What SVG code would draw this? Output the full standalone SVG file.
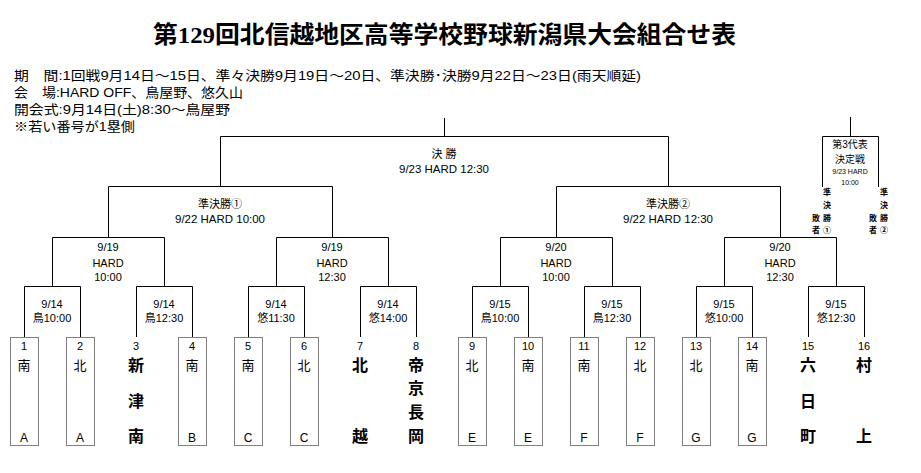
<svg xmlns="http://www.w3.org/2000/svg" width="921" height="473" viewBox="0 0 921 473">
<style>
text{font-family:"Liberation Sans","Noto Sans CJK JP",sans-serif;fill:#000}
.title{font-family:"Liberation Serif","Noto Sans CJK JP",serif;font-size:24px;font-weight:bold;text-anchor:middle}
.info{font-size:13px}
.lb{font-size:11px;text-anchor:middle}
.num{font-size:11px;text-anchor:middle}
.nm{font-size:13px;text-anchor:middle}
.grp{font-size:12px;text-anchor:middle}
.bold{font-size:16px;font-weight:bold;text-anchor:middle}
.s3{font-size:10px;text-anchor:middle}
.s3s{font-size:7px;text-anchor:middle}
.vt{font-size:8px;font-weight:bold;text-anchor:middle}
.ln{fill:none;stroke:#000;stroke-width:1}
.box{fill:none;stroke:#000;stroke-width:1;stroke-dasharray:1 1}
</style>
<rect width="921" height="473" fill="#fff"/>
<g id="title"><text class="title" x="444.5" y="43" textLength="583" lengthAdjust="spacingAndGlyphs">第129回北信越地区高等学校野球新潟県大会組合せ表</text></g>
<g id="info">
<text class="info" x="14" y="80" textLength="627" lengthAdjust="spacingAndGlyphs">期　間:1回戦9月14日～15日、準々決勝9月19日～20日、準決勝･決勝9月22日～23日(雨天順延)</text>
<text class="info" x="14" y="97" textLength="229" lengthAdjust="spacingAndGlyphs">会　場:HARD OFF、鳥屋野、悠久山</text>
<text class="info" x="14" y="114" textLength="216" lengthAdjust="spacingAndGlyphs">開会式:9月14日(土)8:30～鳥屋野</text>
<text class="info" x="14" y="131" textLength="121" lengthAdjust="spacingAndGlyphs">※若い番号が1塁側</text>
</g>
<g id="connectors" class="ln">
<path class="ln" d="M444.5,118V136.5M220.5,186V136.5H668.5V186"/>
<path class="ln" d="M108.5,237V186.5H332.5V237M556.5,237V186.5H780.5V237"/>
<path class="ln" d="M52.5,286V237.5H164.5V286M276.5,286V237.5H388.5V286M500.5,286V237.5H612.5V286M724.5,286V237.5H836.5V286"/>
<path class="ln" d="M24.5,337V286.5H80.5V337M136.5,337V286.5H192.5V337M248.5,337V286.5H304.5V337M360.5,337V286.5H416.5V337M472.5,337V286.5H528.5V337M584.5,337V286.5H640.5V337M696.5,337V286.5H752.5V337M808.5,337V286.5H864.5V337"/>
<path class="ln" d="M850.5,117V136.5M822.5,187V136.5H878.5V187"/>
</g>
<g id="final"><text class="lb" x="444" y="158">決 勝</text><text class="lb" x="444" y="173" textLength="90" lengthAdjust="spacingAndGlyphs">9/23 HARD 12:30</text></g>
<g id="semi1"><text class="lb" x="220" y="208">準決勝①</text><text class="lb" x="220" y="223" textLength="90" lengthAdjust="spacingAndGlyphs">9/22 HARD 10:00</text></g>
<g id="semi2"><text class="lb" x="668" y="208">準決勝②</text><text class="lb" x="668" y="223" textLength="90" lengthAdjust="spacingAndGlyphs">9/22 HARD 12:30</text></g>
<g id="qf1"><text class="lb" x="108" y="251">9/19</text><text class="lb" x="108" y="267">HARD</text><text class="lb" x="108" y="281">10:00</text></g>
<g id="qf2"><text class="lb" x="332" y="251">9/19</text><text class="lb" x="332" y="267">HARD</text><text class="lb" x="332" y="281">12:30</text></g>
<g id="qf3"><text class="lb" x="556" y="251">9/20</text><text class="lb" x="556" y="267">HARD</text><text class="lb" x="556" y="281">10:00</text></g>
<g id="qf4"><text class="lb" x="780" y="251">9/20</text><text class="lb" x="780" y="267">HARD</text><text class="lb" x="780" y="281">12:30</text></g>
<g id="r1-1"><text class="lb" x="52" y="308">9/14</text><text class="lb" x="52" y="322">鳥10:00</text></g>
<g id="r1-2"><text class="lb" x="164" y="308">9/14</text><text class="lb" x="164" y="322">鳥12:30</text></g>
<g id="r1-3"><text class="lb" x="276" y="308">9/14</text><text class="lb" x="276" y="322">悠11:30</text></g>
<g id="r1-4"><text class="lb" x="388" y="308">9/14</text><text class="lb" x="388" y="322">悠14:00</text></g>
<g id="r1-5"><text class="lb" x="500" y="308">9/15</text><text class="lb" x="500" y="322">鳥10:00</text></g>
<g id="r1-6"><text class="lb" x="612" y="308">9/15</text><text class="lb" x="612" y="322">鳥12:30</text></g>
<g id="r1-7"><text class="lb" x="724" y="308">9/15</text><text class="lb" x="724" y="322">悠10:00</text></g>
<g id="r1-8"><text class="lb" x="836" y="308">9/15</text><text class="lb" x="836" y="322">悠12:30</text></g>
<g id="third">
<text class="s3" x="850" y="148">第3代表</text>
<text class="s3" x="850" y="163">決定戦</text>
<text class="s3s" x="850" y="174">9/23 HARD</text>
<text class="s3s" x="850" y="185">10:00</text>
<text class="vt" x="827" y="195">準</text><text class="vt" x="827" y="208">決</text><text class="vt" x="827" y="221">勝</text><text class="vt" x="827" y="233">①</text>
<text class="vt" x="816" y="221">敗</text><text class="vt" x="816" y="233">者</text>
<text class="vt" x="884" y="195">準</text><text class="vt" x="884" y="208">決</text><text class="vt" x="884" y="221">勝</text><text class="vt" x="884" y="233">②</text>
<text class="vt" x="873" y="221">敗</text><text class="vt" x="873" y="233">者</text>
</g>
<g id="team1"><rect class="box" x="10.5" y="337.5" width="28" height="108"/><text class="num" x="24" y="350">1</text><text class="nm" x="24" y="370">南</text><text class="grp" x="24" y="442">A</text></g>
<g id="team2"><rect class="box" x="66.5" y="337.5" width="28" height="108"/><text class="num" x="80" y="350">2</text><text class="nm" x="80" y="370">北</text><text class="grp" x="80" y="442">A</text></g>
<g id="team3"><text class="num" x="136" y="350">3</text><text class="bold" x="136" y="371">新</text><text class="bold" x="136" y="407">津</text><text class="bold" x="136" y="442">南</text></g>
<g id="team4"><rect class="box" x="178.5" y="337.5" width="28" height="108"/><text class="num" x="192" y="350">4</text><text class="nm" x="192" y="370">南</text><text class="grp" x="192" y="442">B</text></g>
<g id="team5"><rect class="box" x="234.5" y="337.5" width="28" height="108"/><text class="num" x="248" y="350">5</text><text class="nm" x="248" y="370">南</text><text class="grp" x="248" y="442">C</text></g>
<g id="team6"><rect class="box" x="290.5" y="337.5" width="28" height="108"/><text class="num" x="304" y="350">6</text><text class="nm" x="304" y="370">北</text><text class="grp" x="304" y="442">C</text></g>
<g id="team7"><text class="num" x="360" y="350">7</text><text class="bold" x="360" y="371">北</text><text class="bold" x="360" y="442">越</text></g>
<g id="team8"><text class="num" x="416" y="350">8</text><text class="bold" x="416" y="371">帝</text><text class="bold" x="416" y="394">京</text><text class="bold" x="416" y="418">長</text><text class="bold" x="416" y="442">岡</text></g>
<g id="team9"><rect class="box" x="458.5" y="337.5" width="28" height="108"/><text class="num" x="472" y="350">9</text><text class="nm" x="472" y="370">北</text><text class="grp" x="472" y="442">E</text></g>
<g id="team10"><rect class="box" x="514.5" y="337.5" width="28" height="108"/><text class="num" x="528" y="350">10</text><text class="nm" x="528" y="370">南</text><text class="grp" x="528" y="442">E</text></g>
<g id="team11"><rect class="box" x="570.5" y="337.5" width="28" height="108"/><text class="num" x="584" y="350">11</text><text class="nm" x="584" y="370">南</text><text class="grp" x="584" y="442">F</text></g>
<g id="team12"><rect class="box" x="626.5" y="337.5" width="28" height="108"/><text class="num" x="640" y="350">12</text><text class="nm" x="640" y="370">北</text><text class="grp" x="640" y="442">F</text></g>
<g id="team13"><rect class="box" x="682.5" y="337.5" width="28" height="108"/><text class="num" x="696" y="350">13</text><text class="nm" x="696" y="370">北</text><text class="grp" x="696" y="442">G</text></g>
<g id="team14"><rect class="box" x="738.5" y="337.5" width="28" height="108"/><text class="num" x="752" y="350">14</text><text class="nm" x="752" y="370">南</text><text class="grp" x="752" y="442">G</text></g>
<g id="team15"><text class="num" x="808" y="350">15</text><text class="bold" x="808" y="371">六</text><text class="bold" x="808" y="407">日</text><text class="bold" x="808" y="442">町</text></g>
<g id="team16"><text class="num" x="864" y="350">16</text><text class="bold" x="864" y="371">村</text><text class="bold" x="864" y="442">上</text></g>
</svg>
